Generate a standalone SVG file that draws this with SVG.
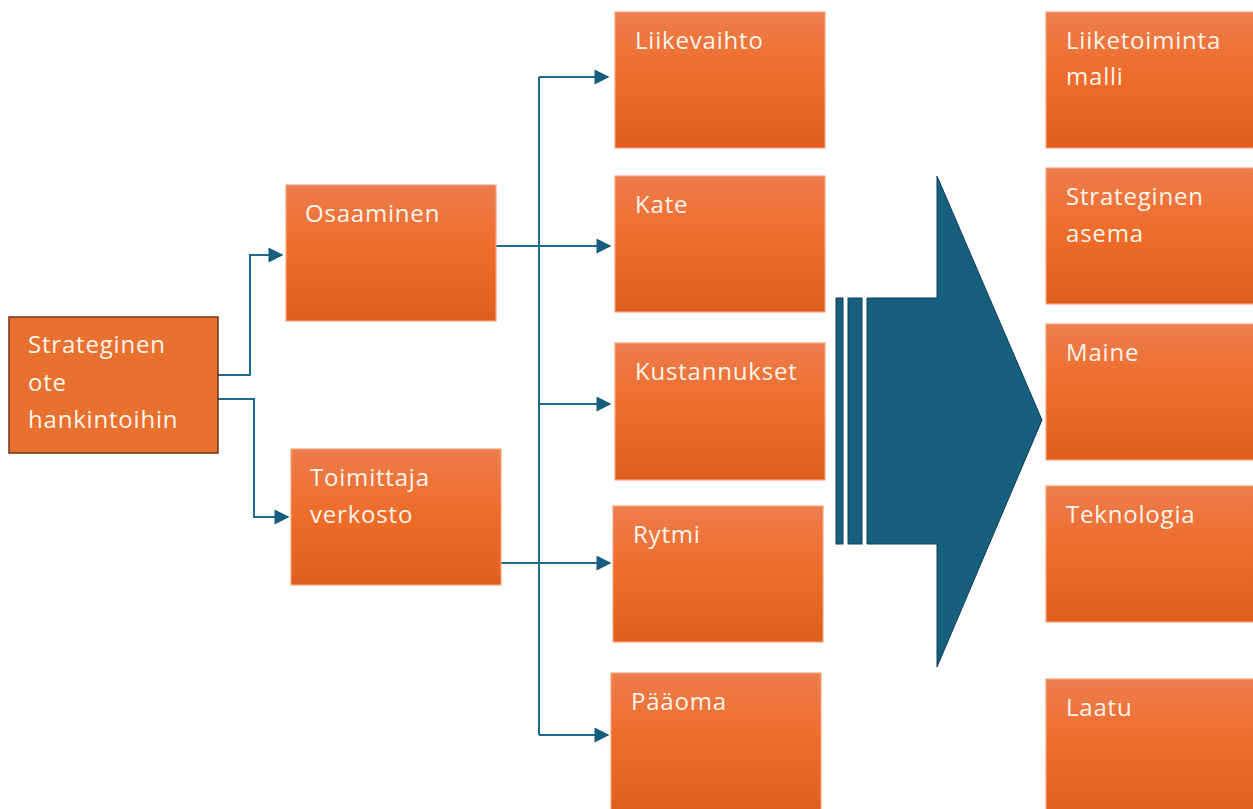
<svg xmlns="http://www.w3.org/2000/svg" width="1253" height="809" viewBox="0 0 1253 809">
<defs>
<linearGradient id="og" x1="0" y1="0" x2="0" y2="1">
<stop offset="0" stop-color="#EC7D4D"/>
<stop offset="0.5" stop-color="#EF6B28"/>
<stop offset="1" stop-color="#E05E1B"/>
</linearGradient>
<marker id="ah" viewBox="0 0 10 10" refX="9" refY="5" markerWidth="8" markerHeight="7.5" orient="auto" markerUnits="strokeWidth">
<path d="M0,0 L10,5 L0,10 Z" fill="#165D7E"/>
</marker>
<style>
.box{fill:url(#og);stroke:#F4A47F;stroke-width:1.2}
.root{fill:#E8712F;stroke:#6E3318;stroke-width:1.5}
.t{font-family:"Open Sans","Liberation Sans",sans-serif;font-size:24px;letter-spacing:0.8px;fill:#FFF4EC}
.c{fill:none;stroke:#1F6A8C;stroke-width:2;marker-end:url(#ah)}
.c0{fill:none;stroke:#1F6A8C;stroke-width:2}
</style>
</defs>
<rect width="1253" height="809" fill="#FFFFFF"/>
<g id="connectors">
<polyline class="c" points="218,375 250,375 250,255 282,255"/>
<polyline class="c" points="218,399 254,399 254,517 288,517"/>
<polyline class="c0" points="539,77 539,735"/>
<polyline class="c" points="539,77 608,77"/>
<polyline class="c" points="496,246 610,246"/>
<polyline class="c" points="539,404 610,404"/>
<polyline class="c" points="501,563 610,563"/>
<polyline class="c" points="539,735 608,735"/>
</g>
<g id="bigarrow">
<rect x="836" y="298" width="7" height="246" fill="#175E7F" stroke="#0E3F57" stroke-width="1"/>
<rect x="848" y="298" width="14" height="246" fill="#175E7F" stroke="#0E3F57" stroke-width="1"/>
<path d="M867,298 L937,298 L937,176 L1042,420 L937,667 L937,544 L867,544 Z" fill="#175E7F" stroke="#0E3F57" stroke-width="1"/>
</g>
<g id="n-root"><rect class="root" x="9" y="317" width="209" height="136"/>
<text class="t" x="28" y="353">Strateginen</text><text class="t" x="28" y="391">ote</text><text class="t" x="28" y="428">hankintoihin</text></g>
<g id="n-osaaminen"><rect class="box" x="286" y="185" width="210" height="136"/><text class="t" x="305" y="222">Osaaminen</text></g>
<g id="n-toimittaja"><rect class="box" x="291" y="449" width="210" height="136"/><text class="t" x="310" y="486">Toimittaja</text><text class="t" x="310" y="523">verkosto</text></g>
<g id="n-liikevaihto"><rect class="box" x="615" y="12" width="210" height="136"/><text class="t" x="635" y="49">Liikevaihto</text></g>
<g id="n-kate"><rect class="box" x="615" y="176" width="210" height="136"/><text class="t" x="635" y="213">Kate</text></g>
<g id="n-kustannukset"><rect class="box" x="615" y="343" width="210" height="137"/><text class="t" x="635" y="380">Kustannukset</text></g>
<g id="n-rytmi"><rect class="box" x="613" y="506" width="210" height="136"/><text class="t" x="633" y="543">Rytmi</text></g>
<g id="n-paaoma"><rect class="box" x="611" y="673" width="210" height="140"/><text class="t" x="631" y="710">Pääoma</text></g>
<g id="n-liiketoiminta"><rect class="box" x="1046" y="12" width="212" height="136"/><text class="t" x="1066" y="49">Liiketoiminta</text><text class="t" x="1066" y="85">malli</text></g>
<g id="n-asema"><rect class="box" x="1046" y="168" width="212" height="136"/><text class="t" x="1066" y="205">Strateginen</text><text class="t" x="1066" y="242">asema</text></g>
<g id="n-maine"><rect class="box" x="1046" y="324" width="212" height="136"/><text class="t" x="1066" y="361">Maine</text></g>
<g id="n-teknologia"><rect class="box" x="1046" y="486" width="212" height="136"/><text class="t" x="1066" y="523">Teknologia</text></g>
<g id="n-laatu"><rect class="box" x="1046" y="679" width="212" height="140"/><text class="t" x="1066" y="716">Laatu</text></g>
</svg>
